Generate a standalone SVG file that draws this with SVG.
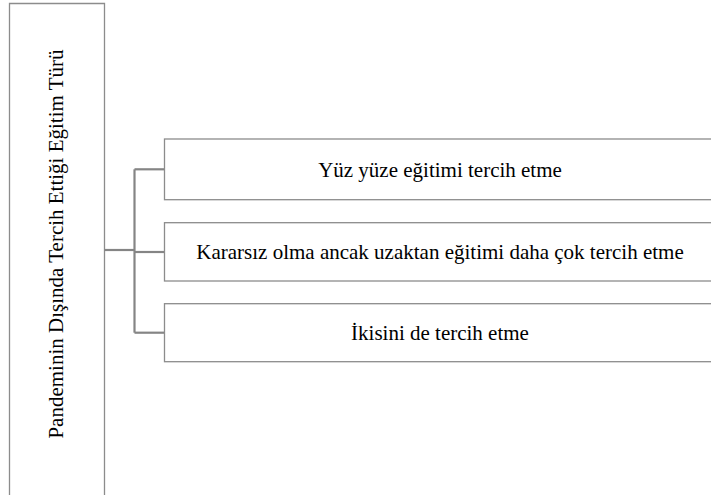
<svg xmlns="http://www.w3.org/2000/svg" width="711" height="495" viewBox="0 0 711 495">
<style>
.box{fill:#ffffff;stroke:#8c8c8c;stroke-width:1.3}
.lbl{font-family:"Liberation Serif","Times New Roman",serif;font-size:21px;fill:#000000}
.con{fill:none;stroke:#858585;stroke-width:2.2}
</style>
<rect width="711" height="495" fill="#ffffff"/>
<g id="root">
<path class="box" d="M9.5,496 V3.5 H104.5 V496"/>
<text class="lbl" transform="translate(63,244) rotate(-90)" text-anchor="middle">Pandeminin Dışında Tercih Ettiği Eğitim Türü</text>
</g>
<g id="connectors">
<line class="con" x1="104.5" y1="250" x2="134.5" y2="250"/>
<line class="con" x1="134.5" y1="169.3" x2="134.5" y2="332.7"/>
<line class="con" x1="134.5" y1="169.3" x2="164.5" y2="169.3"/>
<line class="con" x1="134.5" y1="252" x2="164.5" y2="252"/>
<line class="con" x1="134.5" y1="332.7" x2="164.5" y2="332.7"/>
</g>
<g id="node1">
<rect class="box" x="164.5" y="139" width="560" height="60.7"/>
<text class="lbl" x="440" y="177" text-anchor="middle">Yüz yüze eğitimi tercih etme</text>
</g>
<g id="node2">
<rect class="box" x="164.5" y="222.7" width="560" height="58.3"/>
<text class="lbl" x="440" y="258.5" text-anchor="middle">Kararsız olma ancak uzaktan eğitimi daha çok tercih etme</text>
</g>
<g id="node3">
<rect class="box" x="164.5" y="303.7" width="560" height="58"/>
<text class="lbl" x="440" y="339.5" text-anchor="middle">İkisini de tercih etme</text>
</g>
</svg>
